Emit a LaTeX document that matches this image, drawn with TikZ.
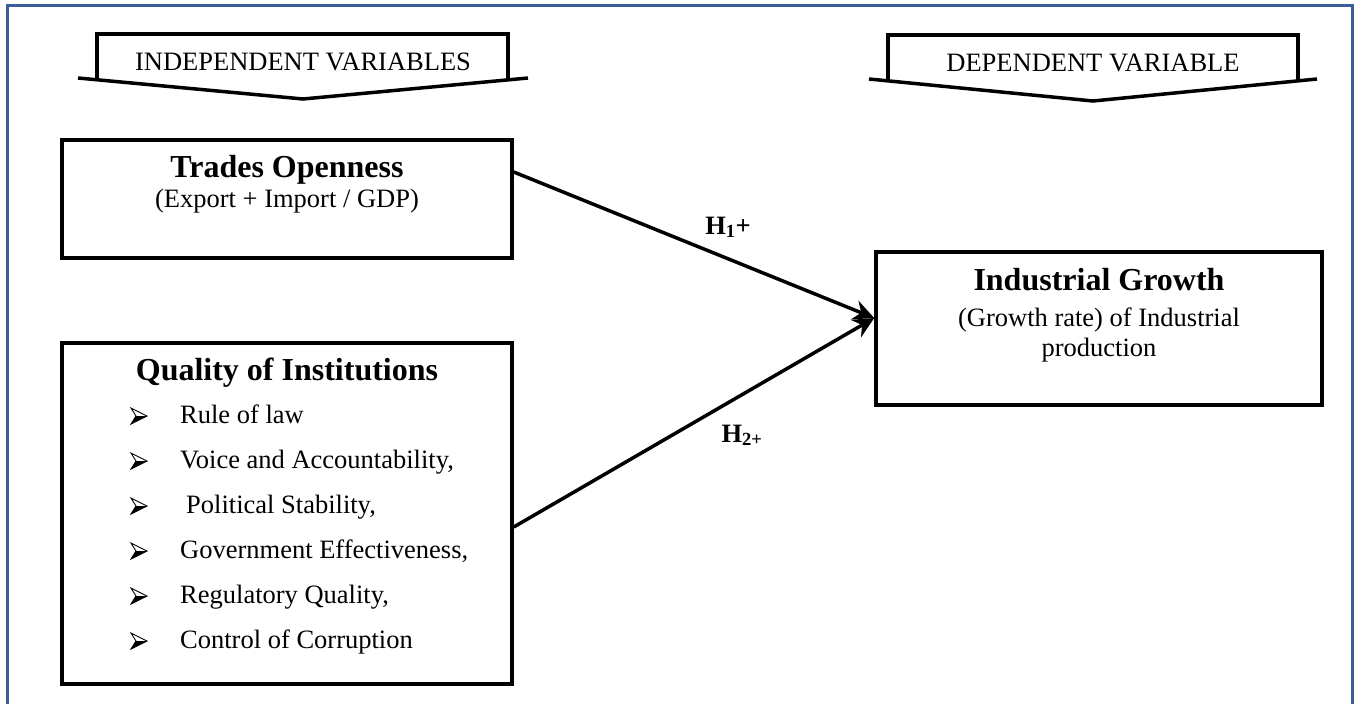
\documentclass[tikz,border=0pt]{standalone}
\usepackage{fontspec}
\setmainfont{Liberation Serif}
\usetikzlibrary{calc,arrows.meta,positioning}
\definecolor{frameblue}{RGB}{58,94,150}

\begin{document}
\begin{tikzpicture}[
box/.style={draw, line width=3.5pt, minimum width=450pt, inner sep=0pt},
banner/.style={line width=3.5pt, line join=miter},
title/.style={font=\fontsize{32}{36}\selectfont\bfseries, inner sep=0pt, anchor=base},
body/.style={font=\fontsize{26.5}{30}\selectfont, inner sep=0pt, anchor=base},
item/.style={body, anchor=base west},
hlabel/.style={font=\fontsize{26.5}{30}\selectfont\bfseries, inner sep=0pt, anchor=base},
link/.style={line width=3.5pt, -{Stealth[length=21pt,width=20pt,inset=7pt]}},
x=1pt, y=-1pt]

\useasboundingbox (0,0) rectangle (1355,704);

% page frame
\draw[frameblue, line width=3pt] (7,712) -- (7,5.5) -- (1352,5.5) -- (1352,712);

% banners
\draw[banner] (97,80) -- (97,34) -- (508,34) -- (508,80);
\draw[banner] (78,78) -- (303,99) -- (528,78);
\node[body] (indep) at (303,70) {INDEPENDENT VARIABLES};

\draw[banner] (888,81) -- (888,35) -- (1298,35) -- (1298,81);
\draw[banner] (869,79) -- (1093,101) -- (1317,79);
\node[body] (dep) at (1093,71) {DEPENDENT VARIABLE};

% boxes
\node[box, minimum height=118pt] (trades) at (287,199) {};
\node[title] (tradesT) at (287,177) {Trades Openness};
\node[body] (tradesB) at (287,207) {(Export + Import / GDP)};

\node[box, minimum height=341pt] (quality) at (287,513.5) {};
\node[title] (qualityT) at (287,380) {Quality of Institutions};
\foreach \txt [count=\k] in {{Rule of law},{Voice and Accountability,},{\hspace{6pt}Political Stability,},{Government Effectiveness,},{Regulatory Quality,},{Control of Corruption}}{
  \node[item] (item\k) at (180,{423+45*(\k-1)}) {\txt};
  % 3-D arrowhead bullet
  \begin{scope}[shift={(131,{416+45*(\k-1)})}]
    \fill (5,0) -- (16,0) -- (0,8) -- cycle;
    \draw[line width=0.9pt, line join=miter] (0,-8) -- (16,0) -- (0,8) -- (5,0) -- cycle;
  \end{scope}
}

\node[box, minimum width=446pt, minimum height=153pt] (growth) at (1099,328.5) {};
\node[title] (growthT) at (1099,290) {Industrial Growth};
\node[body] (growthB) at (1099,326) {(Growth rate) of Industrial};
\node[body] (growthC) at (1099,356) {production};

% hypotheses
\draw[link] ([yshift=27pt]trades.east) -- ([yshift=10.5pt]growth.west);
\draw[link] ([yshift=-13.5pt]quality.east) -- ([yshift=10.5pt]growth.west);

\node[hlabel] (h1) at (728,234) {H\textsubscript{1}+};
\node[hlabel] (h2) at (742,442) {H\textsubscript{2+}};
\end{tikzpicture}
\end{document}
